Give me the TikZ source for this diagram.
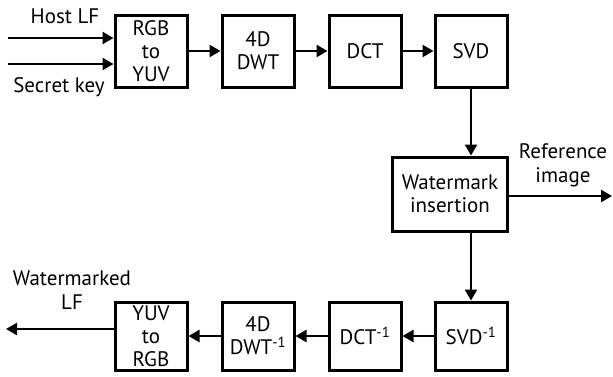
\documentclass[tikz,border=0pt]{standalone}
\usepackage{fontspec}
\setmainfont{PT Sans}
\usetikzlibrary{arrows.meta}
\begin{document}
\begin{tikzpicture}[x=1pt, y=-1pt]
  \tikzset{
    blk/.style={rectangle, draw, line width=3pt, minimum width=72pt, minimum height=72pt,
                inner sep=1pt, align=center, font=\fontsize{21}{23}\selectfont},
    lbl/.style={align=center, inner sep=0pt, font=\fontsize{21}{24}\selectfont},
    arr/.style={-{Triangle[length=11pt, width=12pt]}, line width=2.4pt},
  }
  \useasboundingbox (0,0) rectangle (613,376);
  % Forward chain (top row)
  \node[blk] (rgb) at (151,51) {RGB\\to\\YUV};
  \node[blk] (dwt) at (258,51) {4D\\DWT};
  \node[blk] (dct) at (365,51) {DCT};
  \node[blk] (svd) at (471,51) {SVD};
  % Embedding
  \node[blk, minimum width=115pt, minimum height=74pt] (wm) at (450,194) {Watermark\\insertion};
  % Inverse chain (bottom row)
  \node[blk, minimum height=68pt] (isvd) at (471,336) {SVD\textsuperscript{-1}};
  \node[blk, minimum height=68pt] (idct) at (365,336) {DCT\textsuperscript{-1}};
  \node[blk, minimum height=68pt] (idwt) at (258,336) {4D\\DWT\textsuperscript{-1}};
  \node[blk, minimum height=68pt] (yuv)  at (151,336) {YUV\\to\\RGB};
  % Inputs and outputs
  \coordinate (hostin) at (8,38);
  \coordinate (keyin)  at (8,64);
  \coordinate (refout) at (612,196);
  \coordinate (lfout)  at (6,329);
  \node[lbl] (hostlbl) at (65,16) {Host LF};
  \node[lbl] (keylbl)  at (59,87) {Secret key};
  \node[lbl] (reflbl)  at (563,165) {Reference\\image};
  \node[lbl] (lflbl)   at (72,290) {Watermarked\\LF};
  % Connectors
  \draw[arr] (hostin) -- (hostin -| rgb.west);
  \draw[arr] (keyin)  -- (keyin -| rgb.west);
  \draw[arr] (rgb) -- (dwt);
  \draw[arr] (dwt) -- (dct);
  \draw[arr] (dct) -- (svd);
  \draw[arr] (svd.south) -- (svd.south |- wm.north);
  \draw[arr] (refout -| wm.east) -- (refout);
  \draw[arr] (isvd.north |- wm.south) -- (isvd.north);
  \draw[arr] (isvd) -- (idct);
  \draw[arr] (idct) -- (idwt);
  \draw[arr] (idwt) -- (yuv);
  \draw[arr] (lfout -| yuv.west) -- (lfout);
\end{tikzpicture}
\end{document}
